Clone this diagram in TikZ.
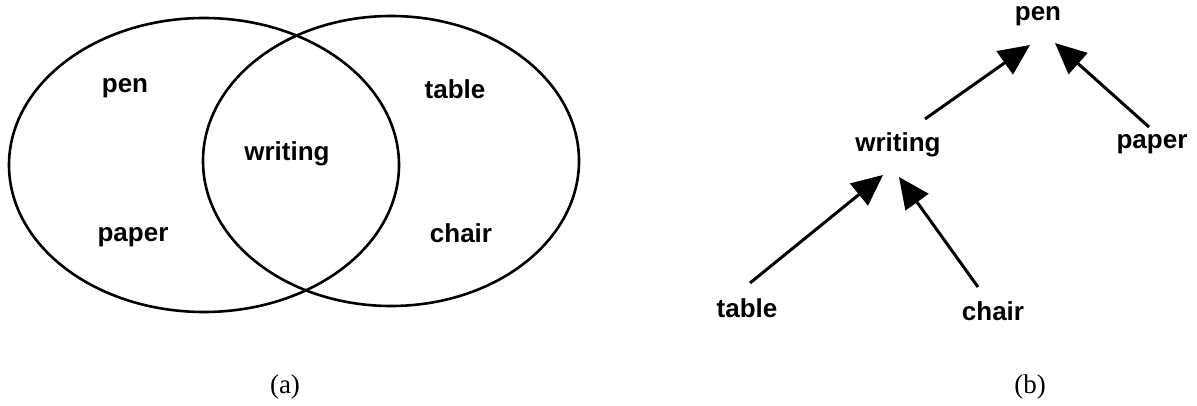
\documentclass[tikz,border=0pt]{standalone}
\usepackage{fontspec}
\newfontfamily\lblfont{Liberation Sans}
\newfontfamily\capfont{Liberation Serif}
\usetikzlibrary{arrows.meta}
\begin{document}
\begin{tikzpicture}[x=1pt,y=-1pt,
  lbl/.style={font=\lblfont\fontsize{26}{30}\selectfont\bfseries, inner sep=0pt},
  captext/.style={font=\capfont\fontsize{27}{32}\selectfont, inner sep=0pt},
  ring/.style={draw=black, line width=2.6pt},
  edge/.style={draw=black, line width=3pt, -{Triangle[length=31pt,width=28pt]}}]
\useasboundingbox (0,0) rectangle (1197,406);
% (a) Venn diagram
\draw[ring] (204,165) ellipse [x radius=195, y radius=147];
\draw[ring] (391,161) ellipse [x radius=188, y radius=145];
\node[lbl] (apen) at (125,88) {pen};
\node[lbl] (atable) at (455,89) {table};
\node[lbl] (awriting) at (287,154) {writing};
\node[lbl] (apaper) at (133,237) {paper};
\node[lbl] (achair) at (461,233) {chair};
\node[captext] (capa) at (285,387) {(a)};
% (b) tree
\node[lbl] (pen) at (1038,16) {pen};
\node[lbl] (writing) at (898,145) {writing};
\node[lbl] (paper) at (1152,144) {paper};
\node[lbl] (table) at (747,308) {table};
\node[lbl] (chair) at (993,311) {chair};
\node[captext] (capb) at (1030,387) {(b)};
\coordinate (w1) at (925,119);
\coordinate (p1) at (1030,45);
\coordinate (pa1) at (1149,127);
\coordinate (p2) at (1055,43);
\coordinate (t1) at (750,283);
\coordinate (w2) at (883,175);
\coordinate (c1) at (978,287);
\coordinate (w3) at (899,177);
\draw[edge] (w1) -- (p1);
\draw[edge] (pa1) -- (p2);
\draw[edge] (t1) -- (w2);
\draw[edge] (c1) -- (w3);
\end{tikzpicture}
\end{document}
